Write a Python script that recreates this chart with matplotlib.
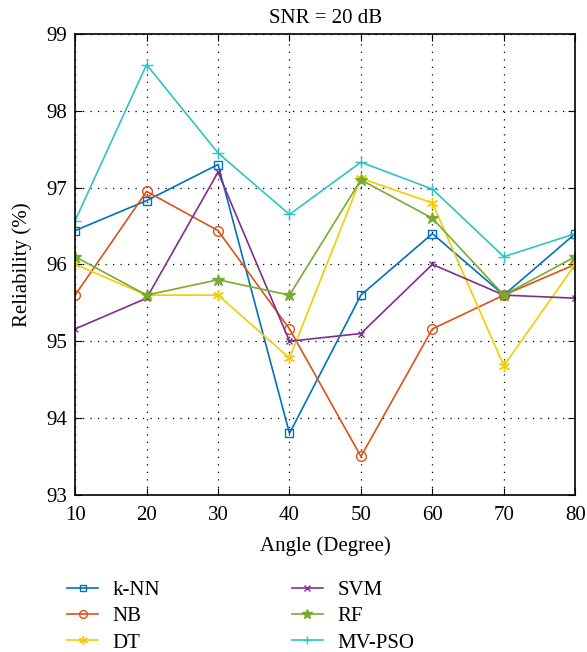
import matplotlib.pyplot as plt
import numpy as np

plt.rcParams['font.family'] = ['Liberation Serif', 'DejaVu Serif']

# Data
angles = [10, 20, 30, 40, 50, 60, 70, 80]
knn = [96.44, 96.83, 97.30, 93.80, 95.60, 96.40, 95.60, 96.40]
nb = [95.60, 96.95, 96.44, 95.16, 93.50, 95.16, 95.60, 96.00]
dt = [96.00, 95.60, 95.60, 94.78, 97.12, 96.80, 94.68, 96.00]
svm = [95.16, 95.56, 97.20, 95.00, 95.10, 96.00, 95.60, 95.56]
rf = [96.10, 95.60, 95.80, 95.60, 97.10, 96.60, 95.60, 96.10]
mvpso = [96.57, 98.60, 97.45, 96.65, 97.33, 96.98, 96.10, 96.40]

fig = plt.figure(figsize=(5.87, 6.52), dpi=100)
ax = fig.add_axes([0.128, 0.241, 0.852, 0.707])

ax.plot(angles, knn, color='#0072BD', marker='s', mfc='none', ms=6, lw=1.2, label='k-NN')
ax.plot(angles, nb, color='#D95319', marker='o', mfc='none', ms=7, lw=1.2, label='NB')
ax.plot(angles, dt, color='#F5CC00', marker=(6, 2, 0), ms=8, lw=1.2, label='DT')
ax.plot(angles, svm, color='#7E2F8E', marker='x', ms=5, lw=1.2, label='SVM')
ax.plot(angles, rf, color='#77AC30', marker='*', ms=9, lw=1.2, label='RF')
ax.plot(angles, mvpso, color='#2EC4C4', marker='+', ms=8, lw=1.2, label='MV-PSO')

ax.set_xlim(10, 80)
ax.set_ylim(93, 99)
ax.set_xticks(np.arange(10, 81, 10))
ax.set_yticks(np.arange(93, 100, 1))
ax.tick_params(direction='in', labelsize=15, length=5, top=True, right=True)
ax.tick_params(axis='x', pad=8)
ax.tick_params(axis='y', pad=6)
ax.grid(True, linestyle=(0, (1, 5)), color='black', lw=0.9)
for s in ax.spines.values():
    s.set_linewidth(1.2)

ax.set_title('SNR = 20 dB', fontsize=15, pad=8)
ax.set_xlabel('Angle (Degree)', fontsize=15, labelpad=8)
ax.set_ylabel('Reliability (%)', fontsize=15, labelpad=10)

# two-column legend below the plot, column-wise order
fig.legend(ax.lines, ['k-NN', 'NB', 'DT', 'SVM', 'RF', 'MV-PSO'],
           loc='upper left', bbox_to_anchor=(0.114, 0.11), ncol=2, frameon=False,
           fontsize=15, handlelength=1.5, handletextpad=0.7, columnspacing=6.3,
           labelspacing=0.33, borderpad=0, borderaxespad=0, markerscale=0.8)

fig.savefig('out.png', dpi=100)
